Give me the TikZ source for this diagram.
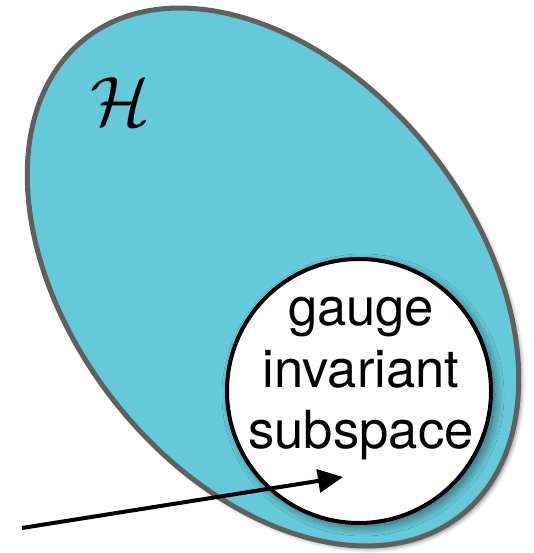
\RequirePackage{fix-cm}
\documentclass[tikz,border=0pt]{standalone}
\usepackage{fontspec}
\newfontfamily\helv{TeX Gyre Heros}
\usetikzlibrary{arrows.meta,shadows.blur,shapes.geometric}
\definecolor{hcyan}{RGB}{100,201,216}
\definecolor{hgray}{RGB}{96,96,96}
\tikzset{
  spaceshape/.style={fill=hcyan, draw=hgray, line width=5pt,
    blur shadow={shadow xshift=3pt, shadow yshift=-3pt, shadow blur radius=4pt, shadow opacity=45}},
  subshape/.style={fill=white, draw=black, line width=4pt,
    blur shadow={shadow xshift=4pt, shadow yshift=-4pt, shadow blur radius=9pt, shadow blur steps=20, shadow opacity=50}},
  sublabel/.style={font=\helv\fontsize{52.6pt}{61.5pt}\selectfont, align=center, inner sep=0pt},
  spacelabel/.style={font=\fontsize{70pt}{80pt}\selectfont, inner sep=0pt},
  maparrow/.style={line width=4pt, -{Triangle[length=25pt,width=23pt]}}
}
\begin{document}
\begin{tikzpicture}[x=1pt,y=1pt]
\useasboundingbox (0,0) rectangle (534,553);
% Hilbert space
\node[spaceshape, ellipse, minimum width=607pt, minimum height=403pt, rotate=-51.7, inner sep=0pt] (H) at (273,276) {};
\node[spacelabel] (Hlabel) at (120,451) {$\mathcal{H}$};
% gauge invariant subspace
\node[subshape, circle, minimum size=264pt, inner sep=0pt] (G) at (359,162) {};
\node[sublabel, anchor=center] (Glabel) at (361,174) {gauge\\invariant\\subspace};
% arrow
\coordinate (start) at (22,25);
\coordinate (tip) at (343,76);
\draw[maparrow] (start) -- (tip);
\end{tikzpicture}
\end{document}
